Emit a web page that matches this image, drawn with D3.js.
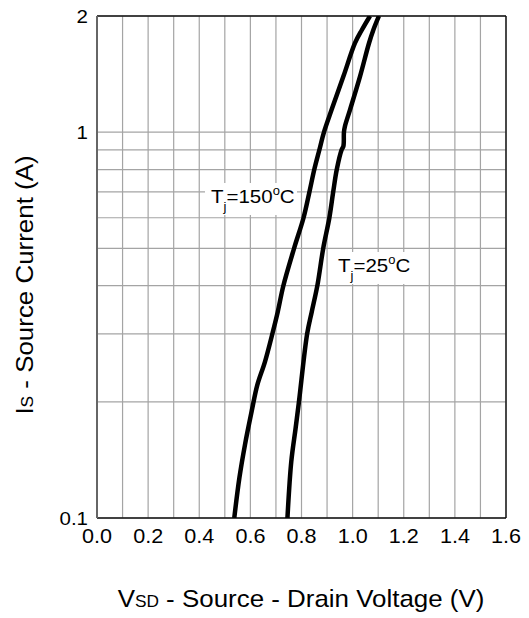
<!DOCTYPE html>
<html>
<head>
<meta charset="utf-8">
<script src="https://cdn.jsdelivr.net/npm/d3@7"></script>
<style>
  html, body { margin: 0; padding: 0; background: #fff; }
  svg { display: block; }
  text { font-family: "Liberation Sans", Arial, Helvetica, sans-serif; fill: #000; }
</style>
</head>
<body>
<svg id="chart" width="529" height="618"></svg>
<script>
// ---- data ----
const xTicks = [0.0, 0.2, 0.4, 0.6, 0.8, 1.0, 1.2, 1.4, 1.6];
const xGrid = [0.0, 0.1, 0.2, 0.3, 0.4, 0.5, 0.6, 0.7, 0.8, 0.9, 1.0, 1.1, 1.2, 1.3, 1.4, 1.5, 1.6];
const yTicks = [0.1, 1, 2];
const yGrid = [0.1, 0.2, 0.3, 0.4, 0.5, 0.6, 0.7, 0.8, 0.9, 1, 2];

const tj150_I = [0.1, 0.127, 0.155, 0.189, 0.221, 0.254, 0.302, 0.342, 0.4, 0.5, 0.6, 0.7, 0.8, 0.9, 1.0, 1.144, 1.395, 1.70, 1.84, 2.0];
const tj150_V = [0.537, 0.557, 0.579, 0.605, 0.627, 0.657, 0.687, 0.707, 0.729, 0.771, 0.808, 0.831, 0.850, 0.870, 0.888, 0.918, 0.964, 1.009, 1.036, 1.068];

const tj25_I = [0.1, 0.14, 0.171, 0.2, 0.3, 0.342, 0.4, 0.5, 0.6, 0.7, 0.8, 0.9, 0.92, 1.0, 1.036, 1.144, 1.395, 1.70, 1.84, 2.0];
const tj25_V = [0.745, 0.760, 0.777, 0.790, 0.822, 0.840, 0.862, 0.885, 0.909, 0.924, 0.938, 0.957, 0.964, 0.966, 0.970, 0.990, 1.029, 1.064, 1.081, 1.103];

// ---- layout ----
const svg = d3.select("#chart");
const L = 97, R = 506, T = 16, B = 518;
const x = d3.scaleLinear().domain([0, 1.6]).range([L, R]);
const y = d3.scaleLog().domain([0.1, 2]).range([B, T]);
const SX = 1.08; // horizontal text stretch

function stretchText(g, tx, ty, anchor, size, rot) {
  const grp = g.append("g").attr("transform",
    `translate(${tx},${ty})` + (rot ? ` rotate(${rot})` : "") + ` scale(${SX},1)`);
  return grp.append("text").attr("text-anchor", anchor).attr("font-size", size);
}

// grid
svg.append("g").selectAll("line").data(xGrid).join("line")
  .attr("x1", d => x(d)).attr("x2", d => x(d))
  .attr("y1", T).attr("y2", B)
  .attr("stroke", "#a4a4a4").attr("stroke-width", 1.2);
svg.append("g").selectAll("line").data(yGrid).join("line")
  .attr("x1", L).attr("x2", R)
  .attr("y1", d => y(d)).attr("y2", d => y(d))
  .attr("stroke", "#a4a4a4").attr("stroke-width", 1.2);

// border
svg.append("line").attr("x1", L).attr("x2", R).attr("y1", T).attr("y2", T).attr("stroke", "#111").attr("stroke-width", 1.4);
svg.append("line").attr("x1", R).attr("x2", R).attr("y1", T).attr("y2", B).attr("stroke", "#111").attr("stroke-width", 1.4);
svg.append("line").attr("x1", L).attr("x2", R).attr("y1", B).attr("y2", B).attr("stroke", "#111").attr("stroke-width", 1.4);
svg.append("line").attr("x1", L).attr("x2", L).attr("y1", T).attr("y2", B).attr("stroke", "#666").attr("stroke-width", 2);

// curves
svg.append("clipPath").attr("id", "clip").append("rect")
  .attr("x", L).attr("y", T).attr("width", R - L).attr("height", B - T);
const line = d3.line().x(d => x(d[0])).y(d => y(d[1])).curve(d3.curveCatmullRom.alpha(0.5));
const series = [d3.zip(tj150_V, tj150_I), d3.zip(tj25_V, tj25_I)];
svg.append("g").attr("clip-path", "url(#clip)").selectAll("path").data(series).join("path")
  .attr("d", line).attr("fill", "none").attr("stroke", "#000")
  .attr("stroke-width", 4.5).attr("stroke-linejoin", "round");

// x tick labels
xTicks.forEach(v => {
  stretchText(svg, x(v), 543, "middle", 20).text(v.toFixed(1));
});
// y tick labels
yTicks.forEach(v => {
  stretchText(svg, 88, y(v) + 7, "end", 19).text(String(v));
});

// curve labels
function tjLabel(px, py, temp, bw) {
  svg.append("rect").attr("x", px - 6).attr("y", py - 20).attr("width", bw).attr("height", 32).attr("fill", "#fff");
  const t = stretchText(svg, px, py, "start", 19);
  t.append("tspan").text("T");
  t.append("tspan").attr("font-size", 12).attr("dy", 8).text("j");
  t.append("tspan").attr("dy", -8).text("=" + temp);
  t.append("tspan").attr("font-size", 12).attr("dy", -8).text("o");
  t.append("tspan").attr("dy", 8).text("C");
}
tjLabel(211, 203, "150", 92);
tjLabel(338, 272, "25", 78);

// axis titles
const xt = stretchText(svg, 301, 607, "middle", 24);
xt.append("tspan").text("V");
xt.append("tspan").attr("font-size", 16).text("SD");
xt.append("tspan").text(" - Source - Drain Voltage (V)");

const yt = stretchText(svg, 33, 285, "middle", 24, -90);
yt.append("tspan").text("I");
yt.append("tspan").attr("font-size", 16).text("S");
yt.append("tspan").text(" - Source Current (A)");
</script>
</body>
</html>
